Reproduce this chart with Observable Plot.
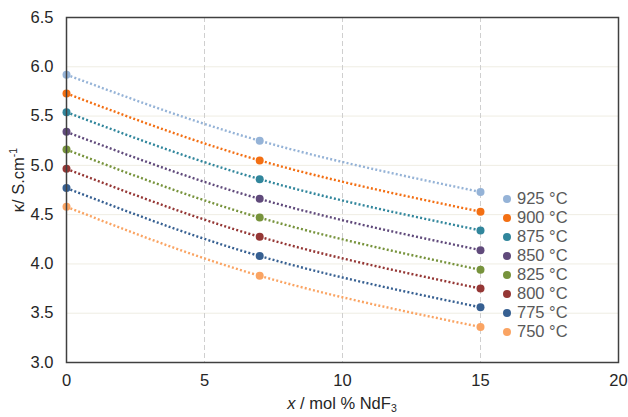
<!DOCTYPE html>
<html>
<head>
<meta charset="utf-8">
<script src="https://cdn.jsdelivr.net/npm/d3@7"></script>
<script src="https://cdn.jsdelivr.net/npm/@observablehq/plot@0.6"></script>
<style>
  html, body { margin: 0; padding: 0; background: #fff; }
  #wrap { position: relative; width: 628px; height: 417px; font-family: "Liberation Sans", Arial, sans-serif; color: #262626; }
  #legend { position: absolute; left: 503px; top: 189px; font-size: 16.5px; color: #595959; line-height: 19px; }
  #legend .row { display: flex; align-items: center; height: 19px; white-space: nowrap; }
  #legend .sw { width: 8px; height: 8px; border-radius: 50%; margin-right: 6px; }
  #xlabel { position: absolute; left: 66px; width: 552px; top: 394px; text-align: center; font-size: 16.5px; }
  #ylabel { position: absolute; left: 17px; top: 180px; transform: translate(-50%, -50%) rotate(-90deg); font-size: 16.5px; white-space: nowrap; }
  sup { font-size: 10.5px; vertical-align: 7px; }
  sub { font-size: 10.5px; vertical-align: -3px; }
</style>
</head>
<body>
<div id="wrap">
  <div id="chart"></div>
  <div id="legend"></div>
  <div id="xlabel"><i>x</i> / mol % NdF<sub>3</sub></div>
  <div id="ylabel">κ/ S.cm<sup>-1</sup></div>
</div>
<script>
// Data
const series = ["925 °C", "900 °C", "875 °C", "850 °C", "825 °C", "800 °C", "775 °C", "750 °C"];
const colors = ["#95B3D7", "#F36F13", "#31869C", "#604A7B", "#77933C", "#953735", "#376092", "#FAA463"];
const xValues = [0, 7, 15];
const k925 = [5.92, 5.25, 4.73];
const k900 = [5.73, 5.05, 4.53];
const k875 = [5.54, 4.86, 4.34];
const k850 = [5.34, 4.66, 4.14];
const k825 = [5.16, 4.47, 3.94];
const k800 = [4.965, 4.275, 3.75];
const k775 = [4.77, 4.08, 3.56];
const k750 = [4.58, 3.88, 3.36];
const xTicks = [0, 5, 10, 15, 20];
const yTicks = [3.0, 3.5, 4.0, 4.5, 5.0, 5.5, 6.0, 6.5];

const allK = [k925, k900, k875, k850, k825, k800, k775, k750];
const data = [];
series.forEach((s, i) => xValues.forEach((x, j) => data.push({ s, x, k: allK[i][j] })));

const chart = Plot.plot({
  width: 628,
  height: 417,
  marginLeft: 66,
  marginRight: 10,
  marginTop: 17,
  marginBottom: 55,
  style: { fontFamily: "Liberation Sans, Arial, sans-serif", fontSize: "16.5px", color: "#262626", background: "#fff" },
  x: { domain: [0, 20], label: null },
  y: { domain: [3, 6.5], label: null },
  color: { domain: series, range: colors },
  marks: [
    Plot.gridY(yTicks, { stroke: "#EFEDE3", strokeOpacity: 1, strokeWidth: 1 }),
    Plot.gridX([5, 10, 15], { stroke: "#CFCFCF", strokeOpacity: 1, strokeDasharray: "5,3" }),
    Plot.axisY(yTicks, { tickSize: 0, tickPadding: 13, tickFormat: d3.format(".1f"), label: null }),
    Plot.axisX(xTicks, { tickSize: 0, tickPadding: 12, label: null }),
    Plot.line(data, { x: "x", y: "k", z: "s", stroke: "s", curve: "natural", strokeWidth: 2.4, strokeDasharray: "2,2.2", strokeLinecap: "butt" }),
    Plot.dot(data, { x: "x", y: "k", fill: "s", r: 4 }),
    Plot.frame({ stroke: "#404040", strokeWidth: 1.5 })
  ]
});
document.getElementById("chart").appendChild(chart);

const legend = d3.select("#legend");
series.forEach((s, i) => {
  const row = legend.append("div").attr("class", "row");
  row.append("div").attr("class", "sw").style("background", colors[i]);
  row.append("span").text(s);
});
</script>
</body>
</html>
